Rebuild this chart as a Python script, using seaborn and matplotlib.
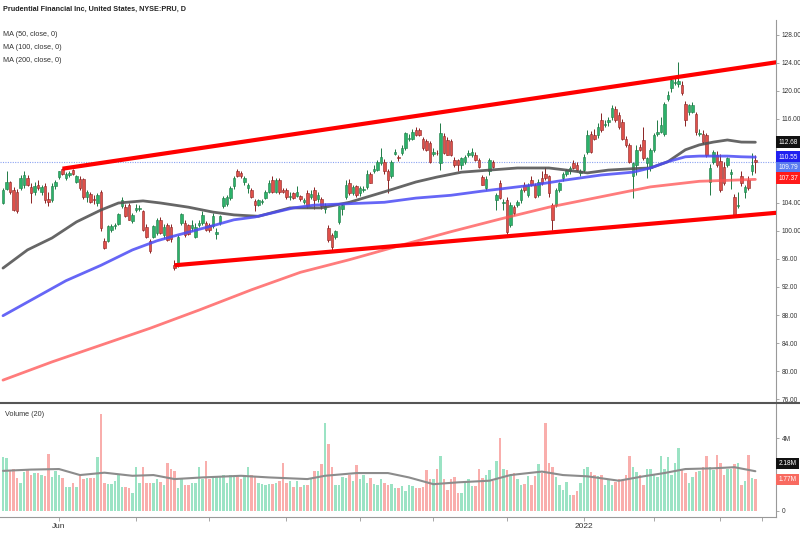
import numpy as np
import pandas as pd
import matplotlib.pyplot as plt
import seaborn as sns

sns.set_theme(style='white')
plt.rcParams['font.family'] = ['Liberation Sans', 'DejaVu Sans']

title = 'Prudential Financial Inc, United States, NYSE:PRU, D'
ma_names = ['MA (50, close, 0)', 'MA (100, close, 0)', 'MA (200, close, 0)']

# daily candles
opens = [104.0, 106.0, 107.0, 105.8, 105.5, 106.1, 106.5, 107.5, 106.3, 105.6,
         106.6, 105.6, 106.4, 104.6, 104.4, 106.4, 107.7, 108.8, 107.6, 108.0,
         108.7, 107.0, 107.4, 107.4, 104.8, 105.3, 104.6, 104.0, 105.6, 98.6,
         98.6, 100.1, 100.7, 101.0, 103.5, 103.4, 103.7, 101.4, 103.0, 103.1,
         102.8, 100.6, 98.5, 99.2, 99.7, 101.6, 99.4, 100.9, 100.6, 95.2,
         95.4, 101.1, 101.1, 100.8, 100.4, 99.2, 100.9, 101.1, 101.1, 100.8,
         100.7, 99.6, 101.1, 103.5, 103.9, 104.7, 106.4, 108.5, 108.3, 107.0,
         106.1, 105.9, 104.3, 103.7, 104.1, 104.7, 105.6, 107.3, 105.6, 107.3,
         105.9, 105.9, 104.9, 105.4, 105.0, 105.0, 104.2, 105.4, 104.9, 105.9,
         104.6, 104.5, 103.2, 100.4, 99.4, 99.2, 101.3, 103.2, 104.9, 106.9,
         105.4, 106.4, 105.4, 105.9, 106.3, 108.1, 108.5, 108.7, 109.7, 109.9,
         108.5, 107.9, 111.0, 110.6, 111.1, 111.8, 113.2, 113.2, 114.4, 114.4,
         113.1, 112.8, 112.5, 111.0, 111.2, 109.7, 113.5, 113.0, 112.8, 110.1,
         110.1, 109.4, 109.9, 110.8, 110.9, 110.9, 110.1, 107.7, 106.1, 108.5,
         109.9, 104.4, 106.8, 104.0, 104.4, 100.9, 103.4, 103.7, 104.4, 106.6,
         105.1, 107.3, 106.6, 105.1, 107.5, 108.2, 107.8, 103.7, 103.7, 105.9,
         107.5, 108.2, 108.5, 109.7, 109.4, 108.3, 108.7, 111.3, 113.9, 113.7,
         113.7, 115.9, 115.1, 115.5, 116.3, 117.4, 116.6, 115.5, 113.2, 112.3,
         107.8, 109.4, 112.0, 113.0, 109.7, 109.0, 111.6, 113.8, 114.2, 113.9,
         118.9, 120.4, 121.1, 121.0, 120.9, 118.2, 117.0, 117.0, 116.7, 113.8,
         113.9, 113.7, 107.0, 109.9, 110.9, 110.0, 109.2, 109.4, 108.1, 104.9,
         103.6, 107.8, 105.6, 107.3, 108.5, 110.1]
highs = [106.2, 108.5, 107.2, 106.3, 106.0, 108.0, 108.5, 108.0, 106.8, 107.0,
         107.3, 106.6, 106.8, 105.6, 106.8, 107.3, 108.6, 109.0, 108.4, 108.5,
         108.9, 108.0, 107.8, 107.6, 105.8, 105.6, 105.2, 105.4, 105.9, 99.0,
         100.8, 101.0, 101.2, 102.6, 104.8, 103.9, 104.0, 102.5, 103.8, 103.7,
         103.0, 101.0, 98.8, 100.8, 101.8, 102.0, 101.0, 101.2, 101.0, 95.8,
         99.4, 102.6, 101.5, 101.0, 101.6, 101.1, 101.6, 102.8, 101.4, 101.2,
         102.5, 100.4, 102.3, 105.0, 105.2, 106.4, 107.9, 108.9, 108.6, 107.9,
         106.9, 106.2, 104.6, 104.6, 104.6, 105.8, 107.3, 107.8, 107.6, 107.6,
         106.2, 106.1, 105.6, 105.6, 106.4, 105.2, 104.7, 105.8, 105.9, 106.3,
         105.6, 104.8, 104.0, 100.8, 99.7, 100.2, 103.6, 103.9, 107.3, 107.4,
         106.5, 106.6, 106.4, 106.4, 108.7, 108.4, 109.4, 110.2, 111.8, 110.3,
         108.8, 110.1, 111.7, 110.9, 112.3, 114.2, 113.9, 114.6, 114.8, 114.7,
         113.4, 113.2, 112.8, 111.9, 111.6, 115.4, 114.0, 113.4, 113.2, 110.5,
         110.3, 110.6, 110.8, 111.5, 111.8, 111.3, 110.4, 108.0, 107.8, 110.4,
         110.2, 105.4, 107.3, 104.5, 104.9, 104.2, 103.7, 104.4, 106.2, 107.0,
         106.9, 107.8, 106.9, 107.4, 108.5, 109.1, 108.0, 104.0, 106.1, 107.0,
         108.4, 108.9, 109.3, 110.2, 109.8, 108.9, 111.0, 114.4, 114.3, 114.5,
         115.4, 116.8, 115.8, 116.3, 118.0, 117.8, 117.0, 116.0, 113.5, 112.6,
         109.9, 112.3, 112.4, 114.9, 110.6, 111.9, 114.0, 115.9, 116.3, 118.4,
         120.0, 121.8, 122.0, 124.2, 121.4, 118.6, 118.2, 118.4, 117.0, 114.6,
         114.4, 114.0, 109.5, 111.6, 111.4, 111.0, 109.8, 110.6, 108.9, 105.3,
         105.6, 108.5, 106.5, 107.8, 111.1, 110.9]
lows = [103.8, 105.8, 105.3, 102.9, 102.6, 105.8, 106.2, 106.4, 104.0, 105.2,
        105.8, 105.2, 104.0, 103.6, 104.2, 106.0, 107.4, 108.0, 107.3, 107.7,
        108.0, 106.8, 105.9, 104.6, 104.2, 104.0, 103.8, 103.6, 100.0, 97.4,
        98.4, 99.8, 100.3, 100.8, 103.3, 102.0, 101.5, 101.2, 102.7, 102.8,
        100.0, 99.0, 96.8, 99.0, 99.4, 99.5, 99.0, 98.5, 98.4, 94.4,
        94.8, 100.9, 99.2, 99.4, 100.0, 99.0, 100.5, 100.8, 100.0, 99.9,
        100.4, 98.9, 100.8, 103.3, 103.6, 104.4, 106.0, 107.7, 107.6, 106.6,
        105.4, 104.7, 102.8, 103.5, 103.8, 104.5, 105.4, 105.4, 105.4, 105.3,
        105.4, 104.6, 104.4, 104.6, 104.8, 104.3, 103.9, 103.3, 104.6, 103.2,
        104.2, 103.2, 102.5, 98.4, 97.2, 98.9, 101.0, 102.3, 104.6, 105.2,
        105.1, 104.9, 105.0, 105.6, 106.0, 106.8, 108.3, 108.5, 109.4, 108.2,
        105.4, 107.6, 110.8, 110.0, 110.9, 111.5, 112.9, 113.0, 113.6, 113.6,
        111.6, 111.4, 109.7, 110.7, 110.8, 108.7, 111.0, 110.8, 110.7, 109.2,
        108.5, 108.8, 109.6, 110.6, 110.6, 110.0, 109.0, 106.5, 105.8, 108.0,
        109.0, 103.0, 104.5, 103.0, 99.5, 100.5, 102.3, 103.4, 104.0, 105.6,
        104.8, 106.4, 104.7, 104.8, 106.6, 107.3, 104.9, 100.1, 103.4, 105.6,
        107.2, 107.9, 108.2, 108.8, 108.5, 107.9, 108.4, 111.0, 111.1, 113.0,
        113.3, 114.2, 114.8, 115.0, 115.9, 115.6, 114.6, 113.0, 112.0, 109.7,
        104.7, 108.0, 111.4, 110.2, 107.6, 108.6, 111.3, 113.6, 114.0, 113.5,
        118.6, 119.9, 120.8, 120.6, 119.4, 115.0, 116.6, 116.8, 113.7, 113.5,
        112.4, 110.6, 105.2, 109.6, 109.1, 105.6, 106.6, 109.1, 106.0, 102.2,
        103.3, 106.4, 104.7, 105.9, 108.0, 108.3]
closes = [105.9, 107.0, 105.6, 103.0, 102.8, 107.6, 108.0, 106.6, 105.4, 106.4,
          106.2, 106.3, 104.4, 104.2, 106.4, 107.0, 108.5, 108.2, 108.2, 108.3,
          108.2, 107.8, 106.1, 104.8, 105.6, 104.2, 104.4, 105.1, 100.4, 97.6,
          100.7, 100.7, 100.9, 102.4, 104.4, 102.1, 101.6, 102.3, 103.3, 103.3,
          100.2, 99.1, 97.1, 100.7, 101.6, 99.7, 100.6, 98.7, 98.8, 94.7,
          99.2, 102.4, 99.4, 99.6, 100.9, 100.6, 101.1, 102.3, 100.2, 100.1,
          102.1, 99.8, 102.1, 104.7, 104.8, 106.1, 107.5, 107.9, 107.8, 107.5,
          106.6, 104.9, 103.7, 104.4, 104.3, 105.6, 106.8, 105.6, 107.3, 105.6,
          105.6, 104.8, 105.0, 104.7, 105.6, 104.6, 104.4, 103.5, 105.3, 104.4,
          105.1, 103.5, 103.5, 98.7, 97.7, 100.0, 103.5, 103.7, 106.6, 105.4,
          106.3, 105.1, 106.1, 106.0, 108.2, 106.9, 108.9, 109.9, 110.6, 108.5,
          107.3, 109.9, 111.3, 110.4, 111.8, 114.0, 113.3, 114.2, 113.7, 113.7,
          111.8, 111.6, 109.9, 111.3, 111.1, 114.0, 111.1, 110.9, 110.9, 109.4,
          109.4, 110.4, 110.6, 111.1, 111.3, 110.1, 109.2, 106.6, 107.4, 110.1,
          109.2, 105.1, 104.7, 104.1, 99.9, 103.7, 102.5, 104.1, 105.9, 105.9,
          106.6, 106.6, 104.9, 107.0, 106.8, 107.5, 105.4, 101.6, 105.9, 106.8,
          108.2, 108.7, 109.0, 109.0, 108.7, 108.6, 110.6, 113.7, 111.3, 113.2,
          114.9, 114.4, 115.3, 115.8, 117.5, 115.9, 114.8, 113.2, 112.3, 109.9,
          109.7, 111.6, 111.6, 110.4, 110.4, 111.6, 113.7, 114.2, 115.1, 118.2,
          119.4, 121.6, 121.3, 121.4, 119.7, 115.9, 118.0, 118.0, 114.2, 114.0,
          112.7, 110.9, 109.0, 111.3, 109.4, 105.9, 106.9, 110.4, 108.4, 102.3,
          103.7, 106.8, 106.3, 106.1, 109.4, 109.79]

# volume in millions
volumes = [2.95, 2.9, 2.2, 2.3, 1.8, 1.55, 2.15, 2.25, 1.95, 2.1,
           2.1, 1.95, 1.9, 3.1, 1.85, 2.2, 2.0, 1.8, 1.3, 1.3,
           1.55, 1.3, 1.9, 1.75, 1.8, 1.8, 1.8, 2.95, 5.3, 1.55,
           1.5, 1.5, 1.65, 1.95, 1.3, 1.3, 1.25, 1.0, 2.4, 1.55,
           2.4, 1.55, 1.55, 1.55, 1.75, 1.6, 1.4, 2.65, 2.3, 2.2,
           1.25, 1.75, 1.4, 1.4, 1.55, 1.55, 2.4, 1.75, 2.75, 1.75,
           1.9, 1.9, 1.9, 1.95, 1.55, 1.95, 1.85, 1.85, 1.75, 1.95,
           2.4, 1.95, 1.85, 1.55, 1.5, 1.4, 1.5, 1.5, 1.55, 1.65,
           2.65, 1.55, 1.65, 1.3, 1.65, 1.3, 1.4, 1.4, 1.75, 2.2,
           2.2, 2.6, 4.8, 3.65, 2.4, 1.4, 1.4, 1.85, 1.8, 2.0,
           1.65, 2.5, 1.75, 1.95, 1.55, 1.8, 1.5, 1.4, 1.75, 1.55,
           1.4, 1.5, 1.25, 1.25, 1.35, 1.1, 1.4, 1.35, 1.25, 1.25,
           1.3, 2.25, 1.75, 1.75, 2.3, 3.0, 1.75, 1.15, 1.75, 1.85,
           1.0, 1.0, 1.55, 1.75, 1.35, 1.35, 2.3, 1.8, 2.0, 2.25,
           1.65, 2.75, 4.0, 2.3, 2.25, 2.0, 2.1, 1.75, 1.4, 1.5,
           1.9, 1.4, 1.9, 2.6, 2.1, 4.8, 2.65, 2.4, 1.85, 1.4,
           1.15, 1.6, 0.85, 0.85, 1.1, 1.55, 2.3, 2.4, 2.15, 2.0,
           1.9, 2.0, 1.4, 1.75, 1.4, 1.6, 1.75, 1.7, 1.95, 3.0,
           2.4, 2.15, 1.95, 1.4, 2.3, 2.3, 2.0, 1.85, 3.0, 2.3,
           2.95, 2.0, 2.65, 3.45, 2.25, 2.1, 1.55, 1.85, 2.15, 2.2,
           2.4, 3.0, 2.4, 2.25, 3.05, 2.65, 1.95, 2.3, 2.3, 2.6,
           2.65, 1.4, 1.65, 3.05, 1.8, 1.77]

# moving averages, read at a handful of bars
ma50_x = [0, 7, 14, 21, 28, 33, 40, 45, 53, 60, 66, 73, 82, 91, 99, 109, 118,
          124, 131, 139, 147, 156, 161, 167, 173, 180, 185, 190, 195, 199, 203,
          207, 211, 215]
ma50_v = [94.7, 97.3, 99.0, 101.3, 103.0, 104.0, 104.3, 104.0, 103.4, 102.7,
          102.3, 102.1, 103.3, 103.3, 104.1, 105.6, 107.0, 107.7, 108.4, 108.7,
          109.0, 109.0, 108.7, 108.3, 108.7, 108.9, 109.0, 109.9, 111.6, 112.3,
          112.7, 113.0, 112.7, 112.68]
ma100_x = [0, 9, 18, 28, 37, 44, 49, 55, 61, 66, 72, 78, 83, 89, 99, 109, 118,
           128, 137, 147, 152, 161, 171, 180, 185, 190, 195, 199, 207, 211, 215]
ma100_v = [87.9, 90.4, 92.9, 95.1, 97.3, 98.6, 99.3, 100.1, 100.9, 101.6, 102.0,
           102.7, 103.3, 103.7, 103.9, 104.1, 104.7, 105.1, 105.7, 106.3, 106.6,
           107.3, 108.0, 108.4, 109.0, 109.9, 110.6, 110.7, 110.7, 110.6, 110.55]
ma200_x = [0, 14, 28, 42, 56, 71, 85, 99, 114, 128, 142, 156, 171, 185, 199, 215]
ma200_v = [78.7, 81.3, 83.7, 86.1, 88.7, 91.6, 94.1, 95.9, 98.0, 99.9, 101.7,
           103.4, 104.9, 106.3, 107.1, 107.37]
vma_x = [0, 8, 16, 22, 29, 37, 43, 49, 57, 68, 76, 87, 92, 101, 110, 116, 123,
         130, 139, 145, 154, 160, 167, 176, 183, 189, 195, 203, 209, 215]
vma_v = [2.2, 2.27, 2.3, 1.97, 2.1, 1.93, 1.97, 1.75, 1.84, 1.93, 1.84, 1.75,
         1.93, 2.08, 2.08, 1.84, 1.47, 1.57, 1.66, 1.97, 2.16, 1.97, 1.9, 1.66,
         1.9, 2.08, 2.3, 2.34, 2.4, 2.18]

# drawn channel lines (bar, price)
upper_x = [17, 221]
upper_y = [108.9, 124.1]
lower_x = [49, 221]
lower_y = [95.1, 102.6]

holidays = ['2021-05-31', '2021-07-05', '2021-09-06', '2021-11-25', '2021-12-24',
            '2022-01-17', '2022-02-21']
tick_dates = ['2021-06-01', '2021-07-01', '2021-08-02', '2021-09-01', '2021-10-01',
              '2021-11-01', '2021-12-01', '2022-01-03', '2022-02-01', '2022-03-01',
              '2022-03-17']
tick_labels = ['Jun', '', '', '', '', '', '', '2022', '', '', '']
price_ticks = [76, 80, 84, 88, 92, 96, 100, 104, 108, 112, 116, 120, 124, 128]
hidden_ticks = [108, 112]  # covered by the value tags on the right

n = len(closes)
assert len(opens) == n and len(highs) == n and len(lows) == n and len(volumes) == n, \
    (len(opens), len(highs), len(lows), len(closes), len(volumes))

o = np.array(opens)
c = np.array(closes)
x = np.arange(n)
up = c >= o

dates = pd.bdate_range('2021-05-07', periods=n + 10, freq='C', holidays=holidays)
tick_pos = dates.get_indexer(pd.to_datetime(tick_dates))

fig = plt.figure(figsize=(8, 5.33), dpi=100)
ax = fig.add_axes([0, 0.2439, 0.97, 0.7186])
axv = fig.add_axes([0, 0.030, 0.97, 0.2139])

# candles
wick_col = np.where(up, '#1e7a45', '#8a2222')
body_col = np.where(up, '#2bb26a', '#e0504a')
ax.vlines(x, lows, highs, colors=wick_col, lw=0.7, zorder=2)
ax.bar(x, np.maximum(np.abs(c - o), 0.08), bottom=np.minimum(o, c), width=0.7,
       color=body_col, edgecolor=wick_col, linewidth=0.4, zorder=2)

sns.lineplot(x=ma50_x, y=ma50_v, ax=ax, color='#555555', linewidth=2, alpha=0.9, zorder=3)
sns.lineplot(x=ma100_x, y=ma100_v, ax=ax, color='#4b4bf5', linewidth=2, alpha=0.85, zorder=3)
sns.lineplot(x=ma200_x, y=ma200_v, ax=ax, color='#ff5050', linewidth=2, alpha=0.75, zorder=3)

ax.plot(upper_x, upper_y, color='#ff0000', lw=3, solid_capstyle='butt', zorder=4)
ax.plot(lower_x, lower_y, color='#ff0000', lw=3, solid_capstyle='butt', zorder=4)

ax.axhline(c[-1], color='#8aa2f2', lw=0.8, ls=(0, (1, 1.2)), zorder=1)

ax.set_xlim(-0.86, 220.9)
ax.set_ylim(75.43, 130.14)
ax.set_yticks(price_ticks)
ax.set_yticklabels(['' if v in hidden_ticks else f'{v:.2f}' for v in price_ticks])
ax.yaxis.tick_right()
ax.set_xticks([])
ax.tick_params(axis='y', right=True, length=2.5, width=0.6, color='#999999',
               labelsize=4.7, labelcolor='#333333', pad=1.5)
for s in ['top', 'left', 'bottom']:
    ax.spines[s].set_visible(False)
ax.spines['right'].set_color('#999999')
ax.spines['right'].set_linewidth(0.8)
ax.set_xlabel('')
ax.set_ylabel('')


def tag(axis, y, text, fc, dy=0):
    axis.annotate(text, xy=(1, y), xycoords=('axes fraction', 'data'),
                  xytext=(1.8, dy), textcoords='offset points', ha='left', va='center',
                  fontsize=4.7, color='white', zorder=10, annotation_clip=False,
                  bbox=dict(boxstyle='square,pad=0.35', fc=fc, ec='none'))


tag(ax, ma50_v[-1], f'{ma50_v[-1]:.2f}', '#111111')
tag(ax, ma100_v[-1], f'{ma100_v[-1]:.2f}', '#2020f0')
tag(ax, c[-1], f'{c[-1]:.2f}', '#5a7cf0', dy=-3.8)
tag(ax, ma200_v[-1], f'{ma200_v[-1]:.2f}', '#ff1a1a', dy=1)

# volume panel
vol_col = np.where(up, '#9be3c4', '#f9aeac')
axv.bar(x, volumes, width=0.75, color=vol_col, edgecolor='none', linewidth=0, zorder=2)
sns.lineplot(x=vma_x, y=vma_v, ax=axv, color='#8c8c8c', linewidth=1.5, zorder=3)
axv.set_xlim(-0.86, 220.9)
axv.set_ylim(-0.33, 5.92)
axv.set_yticks([0, 4])
axv.set_yticklabels(['0', '4M'])
axv.yaxis.tick_right()
axv.set_xticks(tick_pos)
axv.set_xticklabels(tick_labels)
axv.tick_params(axis='y', right=True, length=2.5, width=0.6, color='#999999',
                labelsize=4.7, labelcolor='#333333', pad=1.5)
axv.tick_params(axis='x', bottom=True, length=3, width=0.6, color='#999999',
                labelsize=6, labelcolor='#333333', pad=1)
for s in ['top', 'left']:
    axv.spines[s].set_visible(False)
for s in ['right', 'bottom']:
    axv.spines[s].set_color('#999999')
    axv.spines[s].set_linewidth(0.8)
axv.set_xlabel('')
axv.set_ylabel('')
tag(axv, vma_v[-1], f'{vma_v[-1]:.2f}M', '#111111', dy=5.5)
tag(axv, volumes[-1], f'{volumes[-1]:.2f}M', '#f86a60', dy=-0.5)

# separator between panels
fig.add_artist(plt.Line2D([0, 1], [0.2439, 0.2439], color='#555555', lw=1.5))

fig.text(3 / 800, 1 - 9 / 533, title, fontsize=5.2, fontweight='bold',
         color='#222222', va='center', ha='left')
for k, name in enumerate(ma_names):
    fig.text(3 / 800, 1 - (35 + 12.5 * k) / 533, name, fontsize=5.2,
             color='#333333', va='center', ha='left')
fig.text(5 / 800, 1 - 414 / 533, 'Volume (20)', fontsize=5.2, color='#333333',
         va='center', ha='left')

fig.savefig('out.png', dpi=100)
